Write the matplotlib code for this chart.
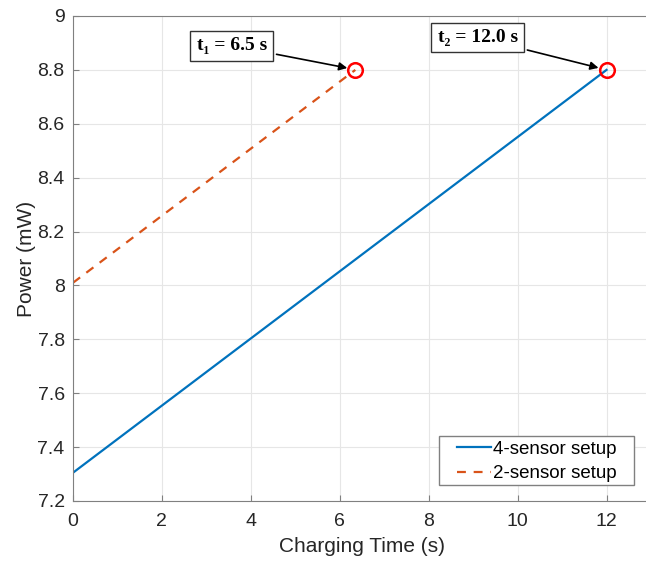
import matplotlib
matplotlib.use("Agg")
import matplotlib.pyplot as plt
from matplotlib.patches import Rectangle
import numpy as np

# Data
t4 = [0.0, 12.0]
p4 = [7.305, 8.80]
t2 = [0.0, 6.35]
p2 = [8.01, 8.80]
labels = ["4-sensor setup", "2-sensor setup"]
ann_text = ["t\u2081 = 6.5 s", "t\u2082 = 12.0 s"]
xticks = [0, 2, 4, 6, 8, 10, 12]
yticks = [7.2, 7.4, 7.6, 7.8, 8.0, 8.2, 8.4, 8.6, 8.8, 9.0]

plt.rcParams['font.family'] = ['Liberation Sans', 'DejaVu Sans']
W, H = 646, 563
fig = plt.figure(figsize=(W/100, H/100), dpi=100)
x0, x1, y0, y1 = 73, 651, 16, 501
ax = fig.add_axes([x0/W, 1 - y1/H, (x1-x0)/W, (y1-y0)/H])

def fx(px):
    return (px - x0) / (x1 - x0)

def fy(py):
    return (y1 - py) / (y1 - y0)

blue = '#0072BD'
orange = '#D95319'
ax.plot(t4, p4, color=blue, lw=1.6, label=labels[0])
ax.plot(t2, p2, color=orange, lw=1.6, ls=(0, (4, 3.5)), label=labels[1])
ax.plot([t2[-1]], [p2[-1]], 'o', mfc='none', mec='red', ms=10.5, mew=1.8)
ax.plot([t4[-1]], [p4[-1]], 'o', mfc='none', mec='red', ms=10.5, mew=1.8)

ax.set_xlim(0, 13)
ax.set_ylim(7.2, 9.0)
ax.set_xticks(xticks)
ax.set_yticks(yticks)
ax.set_yticklabels([f"{v:g}" for v in yticks])
ax.grid(True, color='#e6e6e6', lw=0.8)
ax.set_axisbelow(True)
for s in ['top', 'bottom', 'left', 'right']:
    ax.spines[s].set_color('#808080')
ax.tick_params(direction='in', length=4, color='#808080', labelsize=14, labelcolor='#262626')
ax.tick_params(axis='x', pad=9)
ax.tick_params(axis='y', pad=6)
ax.set_xlabel("Charging Time (s)", fontsize=15, color='#262626', labelpad=5)
ax.set_ylabel("Power (mW)", fontsize=15, color='#262626', labelpad=1)

tfont = dict(family=['Liberation Serif', 'DejaVu Serif'], weight='bold', size=14)
bbox = dict(boxstyle='square,pad=0.33', fc='white', ec='#333333', lw=1)
ax.annotate(ann_text[0], xy=(t2[-1]-0.12, p2[-1]+0.005), xytext=(2.78, 8.89),
            ha='left', va='center', bbox=bbox,
            arrowprops=dict(arrowstyle='-|>', color='black', lw=1.2, mutation_scale=12), **tfont)
ax.annotate(ann_text[1], xy=(t4[-1]-0.12, p4[-1]+0.005), xytext=(8.2, 8.92),
            ha='left', va='center', bbox=bbox,
            arrowprops=dict(arrowstyle='-|>', color='black', lw=1.2, mutation_scale=12), **tfont)

# legend frame (drawn separately for MATLAB-like padding)
ax.add_patch(Rectangle((fx(439), fy(485)), fx(634) - fx(439), fy(436) - fy(485),
                       transform=ax.transAxes, fc='white', ec='#808080', lw=1, zorder=5))
leg = ax.legend(loc='center left', bbox_to_anchor=(fx(457), fy(461.5)),
                fontsize=13.5, frameon=False,
                handlelength=1.8, handletextpad=0.1, borderpad=0, labelspacing=0.4,
                borderaxespad=0)
leg.set_zorder(6)

fig.savefig("out.png", dpi=100)
